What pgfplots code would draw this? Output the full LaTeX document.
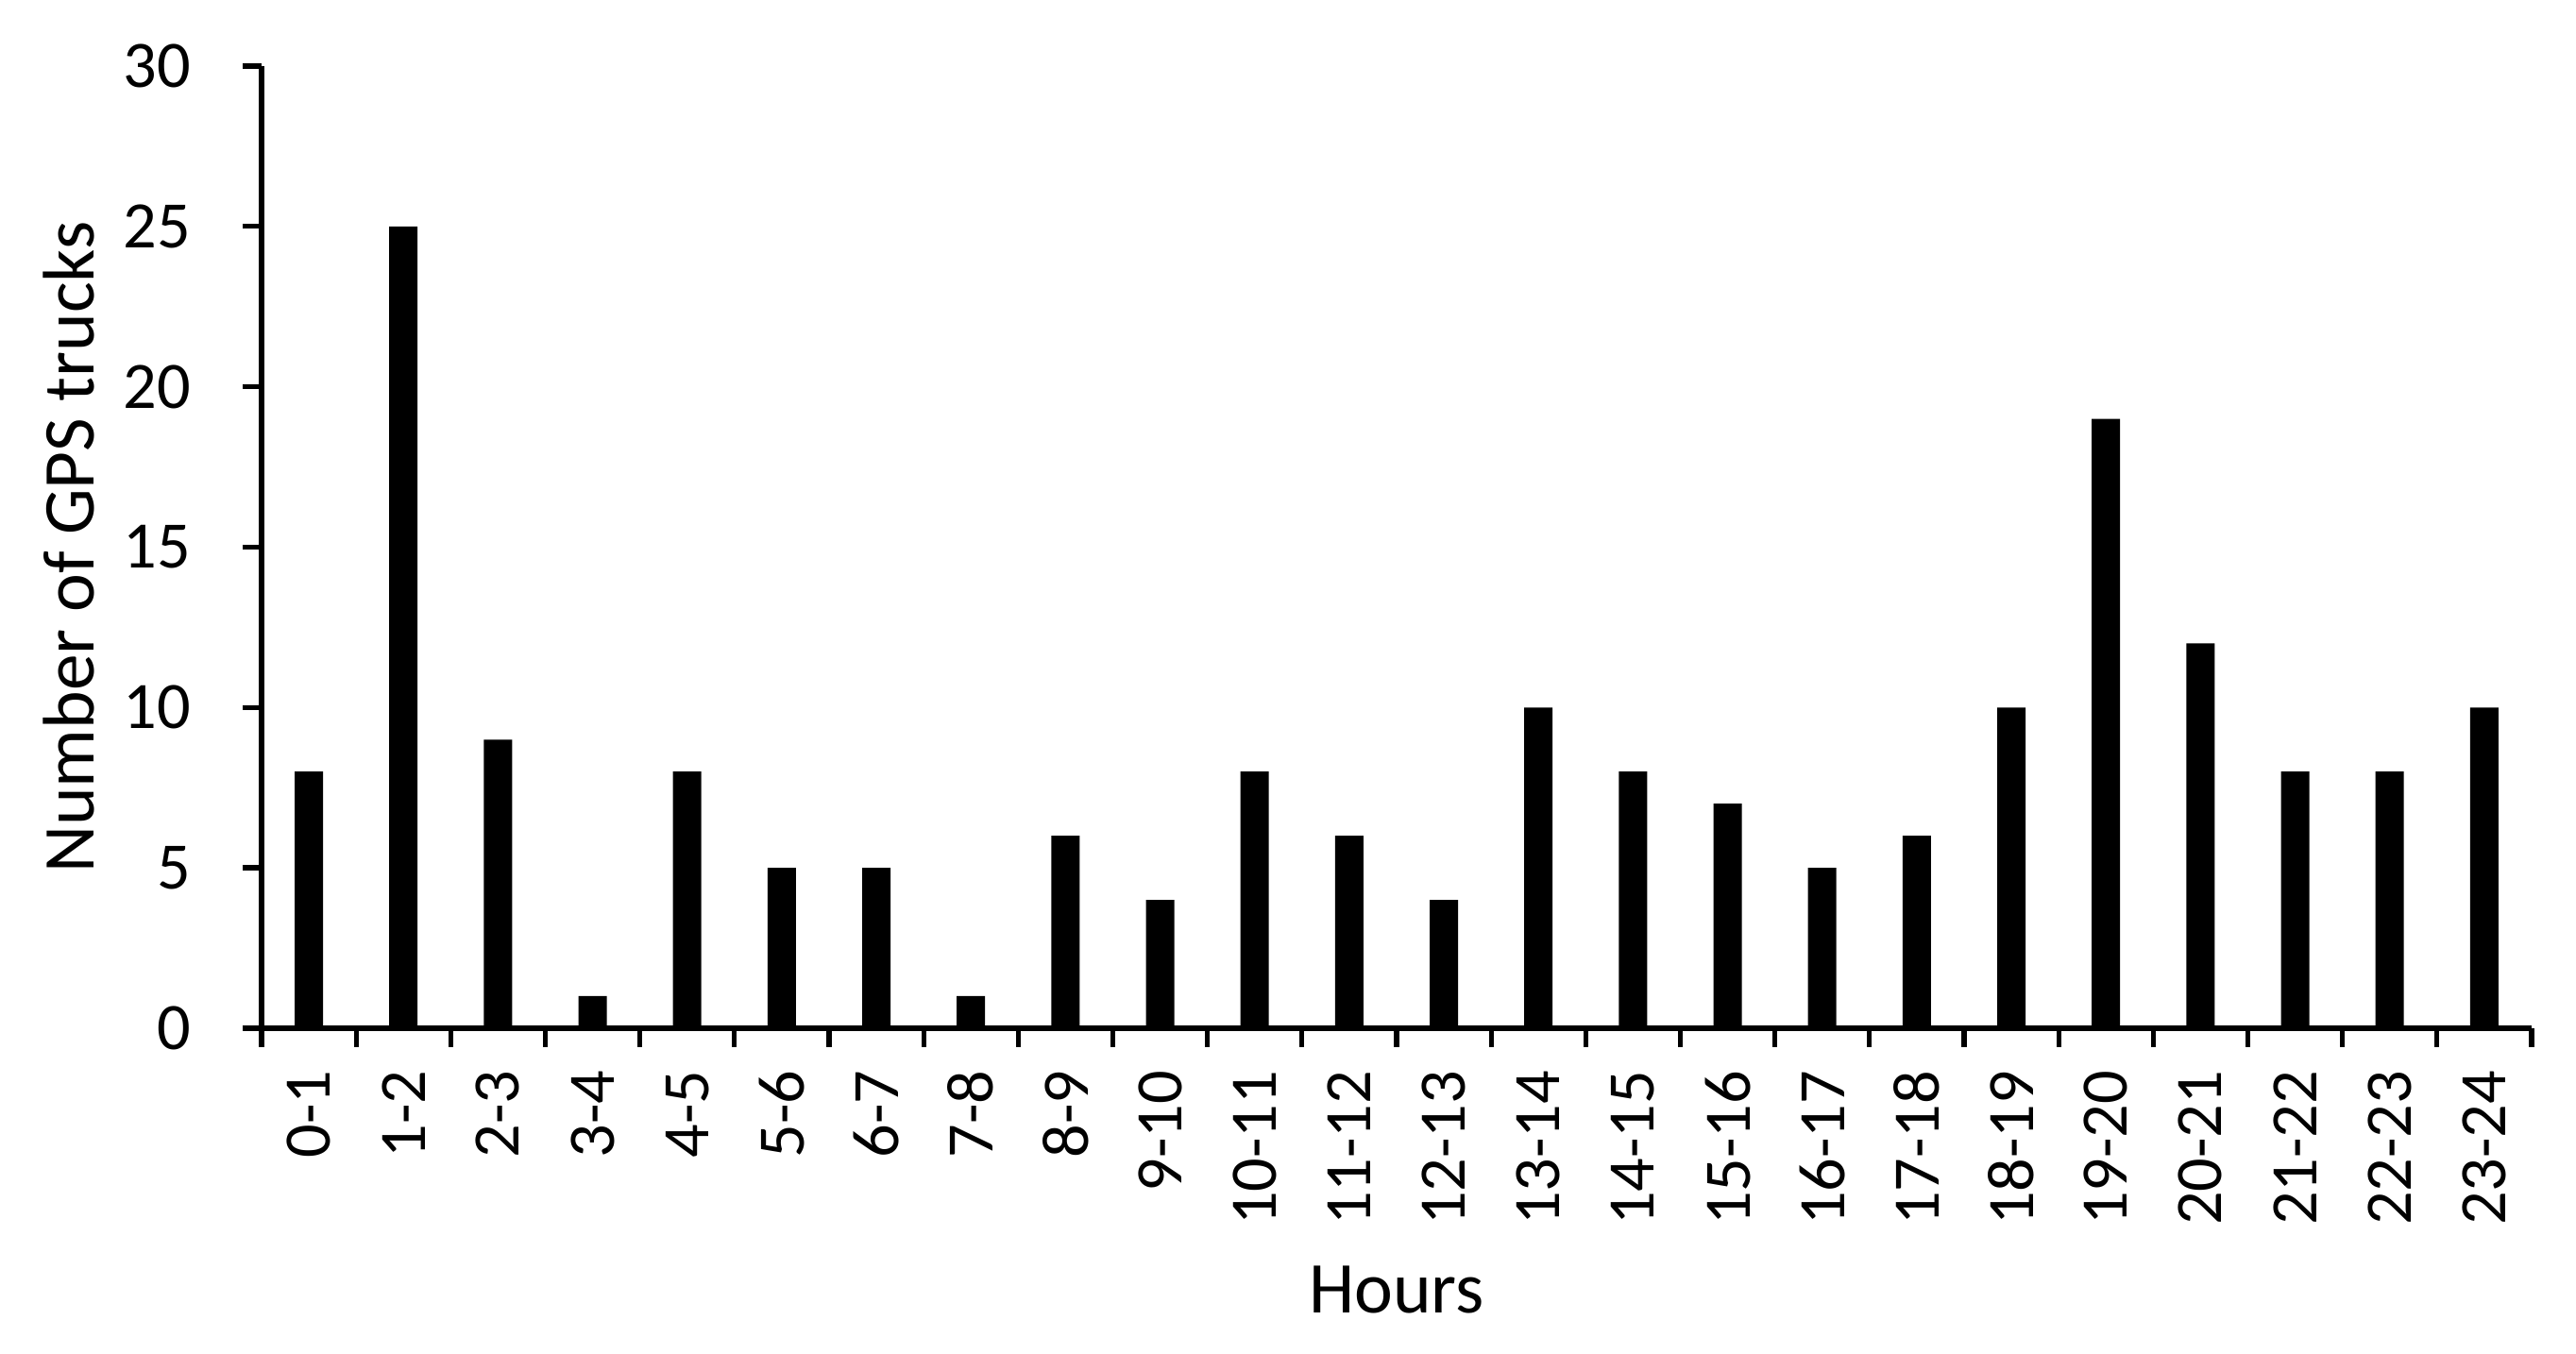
\documentclass[border=0pt]{standalone}
\usepackage{fontspec}
\setmainfont{Carlito}
\usepackage{pgfplots}
\pgfplotsset{compat=1.18}
\begin{document}
\begin{tikzpicture}
\path[use as bounding box] (-13.85mm,-17.25mm) rectangle (122.55mm,54.45mm);
\begin{axis}[
  at={(0,0)}, anchor=south west,
  scale only axis,
  width=120.2mm, height=50.95mm,
  axis x line*=bottom, axis y line*=left,
  axis line style={line width=0.75pt},
  xmin=-0.5, xmax=23.5, ymin=0, ymax=30,
  xtick={0,...,23},
  xticklabels={0-1,1-2,2-3,3-4,4-5,5-6,6-7,7-8,8-9,9-10,10-11,11-12,12-13,13-14,14-15,15-16,16-17,17-18,18-19,19-20,20-21,21-22,22-23,23-24},
  minor xtick={-0.5,0.5,...,23.5},
  ytick={0,5,...,30},
  tick align=outside,
  major tick length=1mm, minor tick length=1mm,
  x tick style={draw=none},
  minor x tick style={draw=black, line width=0.75pt},
  y tick style={line width=0.75pt, black},
  xticklabel style={rotate=90, anchor=east, font=\fontsize{10}{11}\selectfont},
  yticklabel style={font=\fontsize{10}{11}\selectfont, xshift=-1.5mm},
  /pgf/number format/assume math mode=true,
  xlabel={Hours},
  ylabel={Number of GPS trucks},
  xlabel style={at={(axis description cs:0.5,-0.2718)}, anchor=center, font=\fontsize{11}{13}\selectfont},
  ylabel style={at={(axis description cs:-0.0849,0.5)}, anchor=center, font=\fontsize{11}{13}\selectfont},
  ybar, bar width=1.5mm,
  clip=false,
]
\addplot[fill=black, draw=none] coordinates {
(0,8) (1,25) (2,9) (3,1) (4,8) (5,5) (6,5) (7,1) (8,6) (9,4) (10,8) (11,6)
(12,4) (13,10) (14,8) (15,7) (16,5) (17,6) (18,10) (19,19) (20,12) (21,8) (22,8) (23,10)};
\end{axis}
\end{tikzpicture}
\end{document}
